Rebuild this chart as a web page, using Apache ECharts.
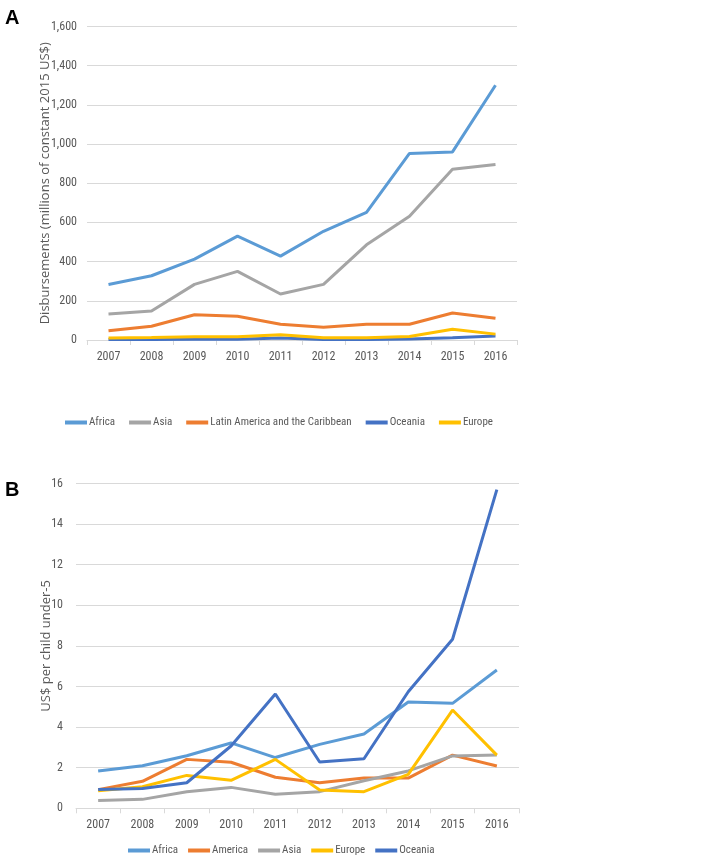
<!DOCTYPE html>
<html>
<head>
<meta charset="utf-8">
<script src="https://cdn.jsdelivr.net/npm/echarts@6/dist/echarts.min.js"></script>
<style>html,body{margin:0;padding:0;background:#fff}#c{width:708px;height:855px}</style>
</head>
<body>
<div id="c"></div>
<script>
const years = ['2007','2008','2009','2010','2011','2012','2013','2014','2015','2016'];

// Panel A: disbursements (millions of constant 2015 US$)
const aAfrica  = [283, 328, 413, 530, 428, 555, 651, 952, 960, 1300];
const aAsia    = [133, 148, 284, 350, 235, 284, 486, 632, 872, 896];
const aLatAm   = [47, 70, 129, 121, 80, 65, 80, 80, 138, 111];
const aOceania = [2, 3, 4, 4, 10, 3, 3, 5, 12, 20];
const aEurope  = [10, 13, 17, 17, 27, 12, 12, 18, 55, 30];

// Panel B: US$ per child under-5
const bAfrica  = [1.84, 2.1, 2.59, 3.22, 2.5, 3.15, 3.66, 5.24, 5.17, 6.81];
const bAmerica = [0.92, 1.33, 2.41, 2.27, 1.53, 1.26, 1.49, 1.49, 2.62, 2.08];
const bAsia    = [0.39, 0.44, 0.82, 1.03, 0.69, 0.82, 1.36, 1.84, 2.58, 2.62];
const bEurope  = [0.87, 1.06, 1.62, 1.38, 2.41, 0.9, 0.82, 1.67, 4.84, 2.62];
const bOceania = [0.92, 0.97, 1.26, 3.07, 5.63, 2.28, 2.44, 5.74, 8.33, 15.7];

const C = {africa:'#5B9BD5', asia:'#A5A5A5', latam:'#ED7D31', oceania:'#4472C4', europe:'#FFC000'};
const narrow = "'Roboto Condensed', 'Liberation Sans Narrow', sans-serif";
const gray = '#595959';

function line(name, data, color, xi, yi) {
  return {type:'line', name, data, xAxisIndex:xi, yAxisIndex:yi, showSymbol:false, symbol:'none',
    lineStyle:{width:3, color}, itemStyle:{color}, emphasis:{disabled:true}};
}
function xAx(gi) {
  return {type:'category', gridIndex:gi, data:years, boundaryGap:true,
    axisLine:{lineStyle:{color:'#d9d9d9', width:1}},
    axisTick:{show:true, length:5, lineStyle:{color:'#d9d9d9'}},
    axisLabel:{color:gray, fontSize:12, fontFamily:narrow, margin:11}};
}
const chart = echarts.init(document.getElementById('c'), null, {renderer:'canvas'});
chart.setOption({
  animation:false,
  title:[
    {text:'A', left:0, top:3, textStyle:{fontSize:20, fontWeight:'bold', color:'#000', fontFamily:'Liberation Sans, Arial, sans-serif'}},
    {text:'B', left:0, top:475, textStyle:{fontSize:20, fontWeight:'bold', color:'#000', fontFamily:'Liberation Sans, Arial, sans-serif'}}
  ],
  grid:[
    {left:87, right:191, top:26.5, bottom:515, containLabel:false},
    {left:76, right:189, top:483.5, bottom:46.7, containLabel:false}
  ],
  xAxis:[xAx(0), xAx(1)],
  yAxis:[
    {type:'value', gridIndex:0, min:0, max:1600, interval:200,
      name:'Disbursements (millions of constant 2015 US$)', nameLocation:'middle', nameGap:35,
      nameMoveOverlap:false,
      nameTextStyle:{color:gray, fontSize:13, fontFamily:"'Open Sans', sans-serif"},
      axisLine:{show:false}, axisTick:{show:false},
      splitLine:{lineStyle:{color:'#d9d9d9', width:1}},
      axisLabel:{color:gray, fontSize:12, fontFamily:narrow, margin:10,
        formatter:v=>v.toLocaleString('en-US')}},
    {type:'value', gridIndex:1, min:0, max:16, interval:2,
      name:'US$ per child under-5', nameLocation:'middle', nameGap:23,
      nameMoveOverlap:false,
      nameTextStyle:{color:gray, fontSize:13, fontFamily:"'Open Sans', sans-serif"},
      axisLine:{show:false}, axisTick:{show:false},
      splitLine:{lineStyle:{color:'#d9d9d9', width:1}},
      axisLabel:{color:gray, fontSize:12, fontFamily:narrow, margin:13}}
  ],
  legend:[
    {data:['Africa','Asia','Latin America and the Caribbean','Oceania','Europe'],
      left:60, top:412, icon:'rect', itemWidth:22, itemHeight:4, itemGap:14,
      textStyle:{color:gray, fontSize:11, fontFamily:narrow, padding:[0,0,0,-3]}},
    {data:['Africa ','America','Asia ','Europe ','Oceania '],
      left:123, top:840, icon:'rect', itemWidth:22, itemHeight:4, itemGap:10,
      textStyle:{color:gray, fontSize:11, fontFamily:narrow, padding:[0,0,0,-3]},
      formatter:n=>n.trim()}
  ],
  series:[
    line('Africa', aAfrica, C.africa, 0, 0),
    line('Asia', aAsia, C.asia, 0, 0),
    line('Latin America and the Caribbean', aLatAm, C.latam, 0, 0),
    line('Oceania', aOceania, C.oceania, 0, 0),
    line('Europe', aEurope, C.europe, 0, 0),
    line('Africa ', bAfrica, C.africa, 1, 1),
    line('America', bAmerica, C.latam, 1, 1),
    line('Asia ', bAsia, C.asia, 1, 1),
    line('Europe ', bEurope, C.europe, 1, 1),
    line('Oceania ', bOceania, C.oceania, 1, 1)
  ]
});
</script>
</body>
</html>
